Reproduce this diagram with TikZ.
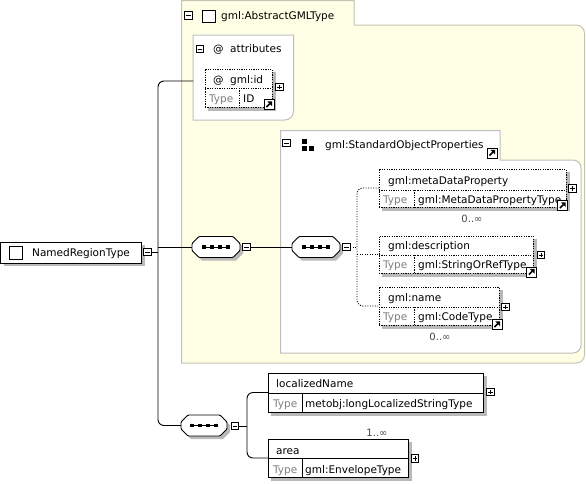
\documentclass[tikz,border=0pt]{standalone}
\usepackage{fontspec}
\setmainfont{DejaVu Sans}
\definecolor{ycol}{RGB}{255,255,230}
\definecolor{ybord}{RGB}{196,196,180}
\definecolor{gbord}{RGB}{190,190,190}
\definecolor{shcol}{RGB}{185,185,185}
\definecolor{typegray}{RGB}{128,128,128}
\definecolor{occgray}{RGB}{70,70,70}
\tikzset{
  ybox/.style={fill=ycol, draw=ybord, line width=1pt},
  wbox/.style={fill=white, draw=gbord, line width=1pt},
  solidbox/.style={draw=black, fill=white, line width=0.9pt, inner sep=0pt, outer sep=0pt, anchor=north west},
  optbox/.style={solidbox, dash pattern=on 1.2pt off 1.2pt},
  optline/.style={draw=black, line width=0.9pt, dash pattern=on 1.2pt off 1.2pt},
  solline/.style={draw=black, line width=0.9pt},
  shad/.style={fill=shcol, draw=none},
  lbl/.style={inner sep=0pt, anchor=base west, font=\fontsize{10.5}{12}\selectfont},
  typelbl/.style={lbl, text=typegray},
  occ/.style={inner sep=0pt, anchor=base, font=\fontsize{10}{12}\selectfont, text=occgray},
  tree/.style={draw=black, line width=0.9pt, rounded corners=6pt},
  dtree/.style={tree, dash pattern=on 1pt off 1.5pt},
  pmbox/.style={draw=black, fill=white, minimum size=7.5pt, inner sep=0pt, outer sep=0pt, line width=0.8pt},
  minusbox/.style={pmbox, path picture={\draw[line width=0.8pt] ([xshift=1.5pt]path picture bounding box.west) -- ([xshift=-1.5pt]path picture bounding box.east);}},
  plusbox/.style={pmbox, path picture={\draw[line width=0.8pt] ([xshift=1.5pt]path picture bounding box.west) -- ([xshift=-1.5pt]path picture bounding box.east) ([yshift=-1.5pt]path picture bounding box.north) -- ([yshift=1.5pt]path picture bounding box.south);}},
}
\newcommand\xrefic[2]{%
  \begin{scope}[shift={(#1,#2)}]
    \draw[fill=white, line width=0.8pt] (0,0) rectangle (10,10);
    \draw[line width=1.6pt] (2.4,7.6) -- (5.8,4.2);
    \fill (3.3,1.8) -- (8.2,1.8) -- (8.2,6.7) -- cycle;
  \end{scope}}
\newcommand\xcompo[4]{% name, cx, cy, half width
  \begin{scope}[shift={(#2,#3)}]
    \fill[shad, shift={(3,3)}] (-#4,-3.5) -- (-#4+7,-10.5) -- (#4-7,-10.5) -- (#4,-3.5) -- (#4,3.5) -- (#4-7,10.5) -- (-#4+7,10.5) -- (-#4,3.5) -- cycle;
    \draw[fill=white, line width=0.9pt, rounded corners=1pt] (-#4,-3.5) -- (-#4+7,-10.5) -- (#4-7,-10.5) -- (#4,-3.5) -- (#4,3.5) -- (#4-7,10.5) -- (-#4+7,10.5) -- (-#4,3.5) -- cycle;
    \draw[line width=0.9pt] (-12,0) -- (12,0);
    \foreach \dx in {-12,-4,4,12} \fill (\dx-1.7,-1.7) rectangle (\dx+1.7,1.7);
  \end{scope}
  \node[inner sep=0pt, outer sep=0pt, minimum width=2*#4 pt, minimum height=21pt] (#1) at (#2,#3) {};}
\begin{document}
\begin{tikzpicture}[x=1pt, y=-1pt]
\useasboundingbox (0,0) rectangle (586,483);

% ---------- AbstractGMLType container ----------
\draw[ybox] (181.5,0.5) -- (354,0.5) -- (354,25) -- (576,25) .. controls (581,25) and (584.5,28.5) .. (584.5,33.5) -- (584.5,354.5) .. controls (584.5,359.5) and (581,363) .. (576,363) -- (181.5,363) -- cycle;
\node[minusbox] (mtab) at (188.5,15.5) {};
\draw[line width=0.9pt, fill=white] (202.5,10) rectangle (215,22);
\node[lbl] (tabt) at (221,19.5) {gml:AbstractGMLType};

% ---------- attributes ----------
\draw[wbox] (193,35) -- (293.5,35) -- (293.5,111) .. controls (293.5,116) and (290,120) .. (284.5,120) -- (193,120) -- cycle;
\node[minusbox] (mattr) at (200,49) {};
\node[lbl] (attrat) at (213,52) {@};
\node[lbl] (attrt) at (230,52) {attributes};
\coordinate (attrin) at (193,81);

% gml:id
\fill[shad] (208,72) rectangle (275.5,110.5);
\node[optbox, minimum width=67pt, minimum height=38pt] (gmlid) at (205,69) {};
\draw[optline] (205,88) -- (272,88);
\draw[optline] (239,88) -- (239,107);
\node[lbl] (idat) at (213,83) {@};
\node[lbl] (idt) at (230,83) {gml:id};
\node[typelbl] (idty) at (209,102) {Type};
\node[lbl] (idtv) at (243,102) {ID};
\node[plusbox] (pid) at (279.5,87) {};
\xrefic{264}{99.5}

% ---------- StandardObjectProperties ----------
\draw[wbox] (280.5,130.5) -- (500,130.5) -- (500,160) -- (573,160) .. controls (577.5,160) and (581,163.5) .. (581,168) -- (581,345) .. controls (581,349.5) and (577.5,353) .. (573,353) -- (280.5,353) -- cycle;
\node[minusbox] (msop) at (286.5,143) {};
\fill (302,139) rectangle (307,144);
\fill (302,146) rectangle (307,151);
\fill (309,146) rectangle (314,151);
\node[lbl] (sopt) at (325,148) {gml:StandardObjectProperties};
\xrefic{487}{148}

% metaDataProperty
\fill[shad] (382,172) rectangle (569.5,210.5);
\node[optbox, minimum width=187pt, minimum height=38pt] (meta) at (379,169) {};
\draw[optline] (379,190) -- (566,190);
\draw[optline] (414,190) -- (414,207);
\node[lbl] (metat) at (388,184) {gml:metaDataProperty};
\node[typelbl] (metaty) at (383,203) {Type};
\node[lbl] (metatv) at (418,203) {gml:MetaDataPropertyType};
\node[plusbox] (pmeta) at (572.5,188.5) {};
\xrefic{557.5}{200.5}
\node[occ] (metaocc) at (472,222) {0..∞};

% description
\fill[shad] (382,239) rectangle (536.5,276.5);
\node[optbox, minimum width=154pt, minimum height=37pt] (desc) at (379,236) {};
\draw[optline] (379,255) -- (533,255);
\draw[optline] (414,255) -- (414,273);
\node[lbl] (desct) at (388,249) {gml:description};
\node[typelbl] (descty) at (383,268) {Type};
\node[lbl] (desctv) at (418,268) {gml:StringOrRefType};
\node[plusbox] (pdesc) at (541,255) {};
\xrefic{526.5}{267}

% name
\fill[shad] (382,290) rectangle (502.5,328.5);
\node[optbox, minimum width=120pt, minimum height=38pt] (gname) at (379,287) {};
\draw[optline] (379,307) -- (499,307);
\draw[optline] (414,307) -- (414,325);
\node[lbl] (namet) at (388,301) {gml:name};
\node[typelbl] (namety) at (383,320) {Type};
\node[lbl] (nametv) at (418,320) {gml:CodeType};
\node[plusbox] (pname) at (505.5,307) {};
\xrefic{492}{319.5}
\node[occ] (nameocc) at (440,340) {0..∞};

% ---------- NamedRegionType ----------
\fill[shad] (3.5,245) rectangle (144.5,266);
\node[solidbox, minimum width=141pt, minimum height=21pt] (nrt) at (0.5,242) {};
\draw[line width=0.9pt, fill=white] (9.5,246.5) rectangle (22,259);
\node[lbl] (nrtt) at (32,256.5) {NamedRegionType};
\node[minusbox] (mnrt) at (147.5,252) {};

% ---------- compositors ----------
\xcompo{c1}{216}{247}{24}
\node[minusbox] (mc1) at (246.5,247) {};
\xcompo{c2}{316}{247}{24}
\node[minusbox] (mc2) at (346.5,247) {};
\xcompo{c3}{204}{425.5}{23}
\node[minusbox] (mc3) at (235,426) {};

% ---------- localizedName / area ----------
\fill[shad] (271,376) rectangle (486.5,415.5);
\node[solidbox, minimum width=215pt, minimum height=39pt] (locn) at (268,373) {};
\draw[solline] (268,393) -- (483,393);
\draw[solline] (302,393) -- (302,412);
\node[lbl] (locnt) at (276,387) {localizedName};
\node[typelbl] (locnty) at (273,407) {Type};
\node[lbl] (locntv) at (305,407) {metobj:longLocalizedStringType};
\node[plusbox] (plocn) at (490.5,392) {};
\node[occ] (locnocc) at (377,436) {1..∞};

\fill[shad] (271,442) rectangle (411.5,480.5);
\node[solidbox, minimum width=140pt, minimum height=38pt] (area) at (268,439) {};
\draw[solline] (268,458) -- (408,458);
\draw[solline] (302,458) -- (302,477);
\node[lbl] (areat) at (276,454) {area};
\node[typelbl] (areaty) at (273,473) {Type};
\node[lbl] (areatv) at (305,473) {gml:EnvelopeType};
\node[plusbox] (parea) at (415,458.5) {};

% ---------- connectors ----------
\coordinate (busT) at (158,81);
\coordinate (busM) at (158,252);
\coordinate (busB) at (158,425.5);
\draw[tree] (mnrt.east) -- (busM);
\draw[tree] (attrin) -- (busT) -- (busB) -- (c3.west);
\draw[tree] (busM |- c1.west) -- (c1.west);
\draw[tree] (mc1.east) -- (c2.west);

\coordinate (dbusT) at (357,188);
\coordinate (dbusB) at (357,306);
\draw[dtree] (mc2.east) -- (357,247);
\draw[dtree] (meta.west) -- (dbusT) -- (dbusB) -- (gname.west);
\draw[dtree] (dbusT |- desc.west) -- (desc.west);

\coordinate (bus3T) at (247,392.5);
\coordinate (bus3B) at (247,458);
\draw[tree] (mc3.east) -- (bus3T |- mc3.east);
\draw[tree] (locn.west) -- (bus3T) -- (bus3B) -- (area.west);
\end{tikzpicture}
\end{document}
